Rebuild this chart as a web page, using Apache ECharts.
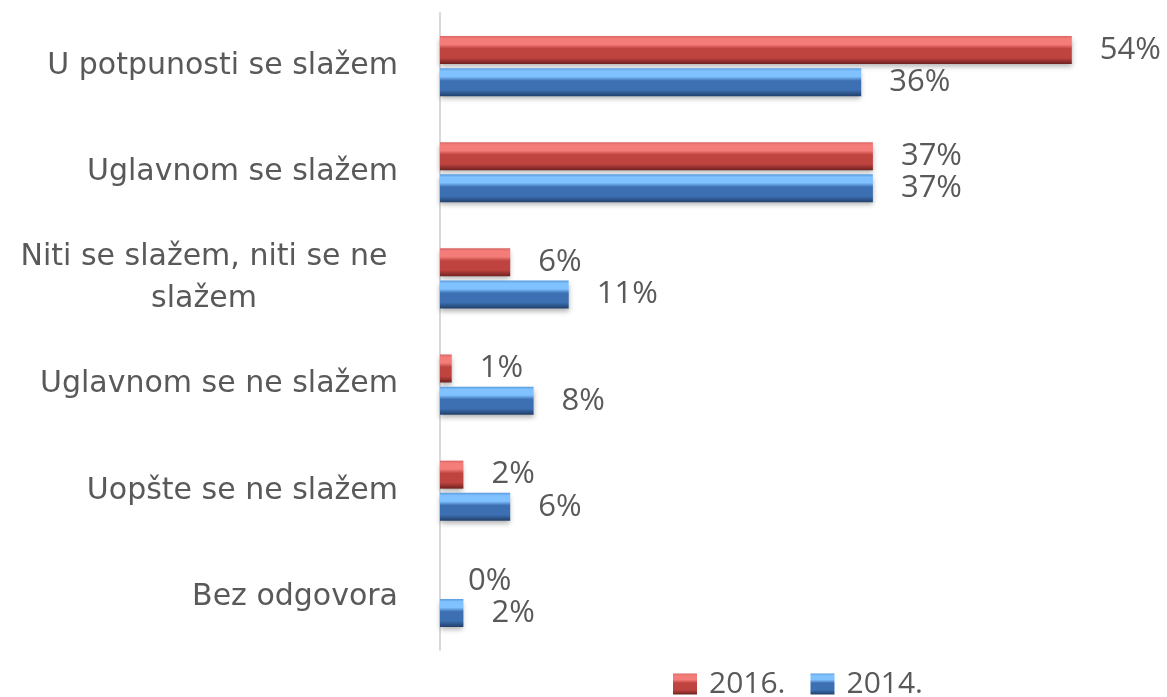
<!DOCTYPE html>
<html>
<head>
<meta charset="utf-8">
<script src="https://cdn.jsdelivr.net/npm/echarts@6/dist/echarts.min.js"></script>
<style>
  html, body { margin: 0; padding: 0; background: #fff; }
  #chart { width: 1167px; height: 697px; }
</style>
</head>
<body>
<div id="chart"></div>
<script>
var categories = ['U potpunosti se slažem', 'Uglavnom se slažem', 'Niti se slažem, niti se ne\nslažem', 'Uglavnom se ne slažem', 'Uopšte se ne slažem', 'Bez odgovora'];
var values2016 = [54, 37, 6, 1, 2, 0];
var values2014 = [36, 37, 11, 8, 6, 2];
var seriesNames = ['2016.', '2014.'];

var catFont = 'DejaVu Sans';
var numFont = 'Open Sans';
var textColor = '#595959';

function barGradient(edge, light, mid, dark) {
  return new echarts.graphic.LinearGradient(0, 0, 0, 1, [
    { offset: 0, color: edge },
    { offset: 0.1, color: light },
    { offset: 0.3, color: light },
    { offset: 0.45, color: mid },
    { offset: 0.78, color: mid },
    { offset: 1, color: dark }
  ]);
}

var redFill = barGradient('#d86664', '#f47c79', '#bf433f', '#6e2220');
var blueFill = barGradient('#5a9ade', '#80c2ff', '#3c70b2', '#213f69');

var labelStyle = {
  show: true,
  position: 'right',
  distance: 28,
  formatter: '{c}%',
  fontFamily: numFont,
  fontSize: 31,
  color: textColor
};

var myChart = echarts.init(document.getElementById('chart'));
var option = {
  backgroundColor: '#fff',
  animation: false,
  grid: { left: 440, right: 25, top: 13, bottom: 47 },
  legend: {
    top: 664,
    left: 668,
    itemWidth: 24,
    itemHeight: 21,
    itemGap: 25,
    icon: 'rect',
    data: seriesNames,
    textStyle: { fontFamily: numFont, fontSize: 30, color: textColor, padding: [0, 0, 0, 7] }
  },
  xAxis: {
    type: 'value',
    min: 0,
    max: 60,
    show: false
  },
  yAxis: {
    type: 'category',
    inverse: true,
    data: categories,
    axisLine: { show: true, lineStyle: { color: '#d9d9d9', width: 2 } },
    axisTick: { show: false },
    axisLabel: {
      margin: 42,
      fontFamily: catFont,
      fontSize: 30,
      color: textColor,
      lineHeight: 42,
      formatter: function(v) {
        if (v.indexOf('\n') >= 0) {
          return v.split('\n').map(function(s) { return '{c|' + s + '}'; }).join('\n');
        }
        return v;
      },
      rich: {
        c: { width: 388, align: 'center', fontFamily: catFont, fontSize: 30, color: textColor, lineHeight: 42 }
      }
    }
  },
  series: [{
    name: seriesNames[0],
    type: 'bar',
    data: values2016,
    barWidth: 28,
    barGap: '15%',
    itemStyle: { color: redFill, shadowColor: 'rgba(0,0,0,0.3)', shadowBlur: 5, shadowOffsetY: 3 },
    label: labelStyle
  }, {
    name: seriesNames[1],
    type: 'bar',
    data: values2014,
    barWidth: 28,
    itemStyle: { color: blueFill, shadowColor: 'rgba(0,0,0,0.3)', shadowBlur: 5, shadowOffsetY: 3 },
    label: labelStyle
  }]
};
myChart.setOption(option);
</script>
</body>
</html>
